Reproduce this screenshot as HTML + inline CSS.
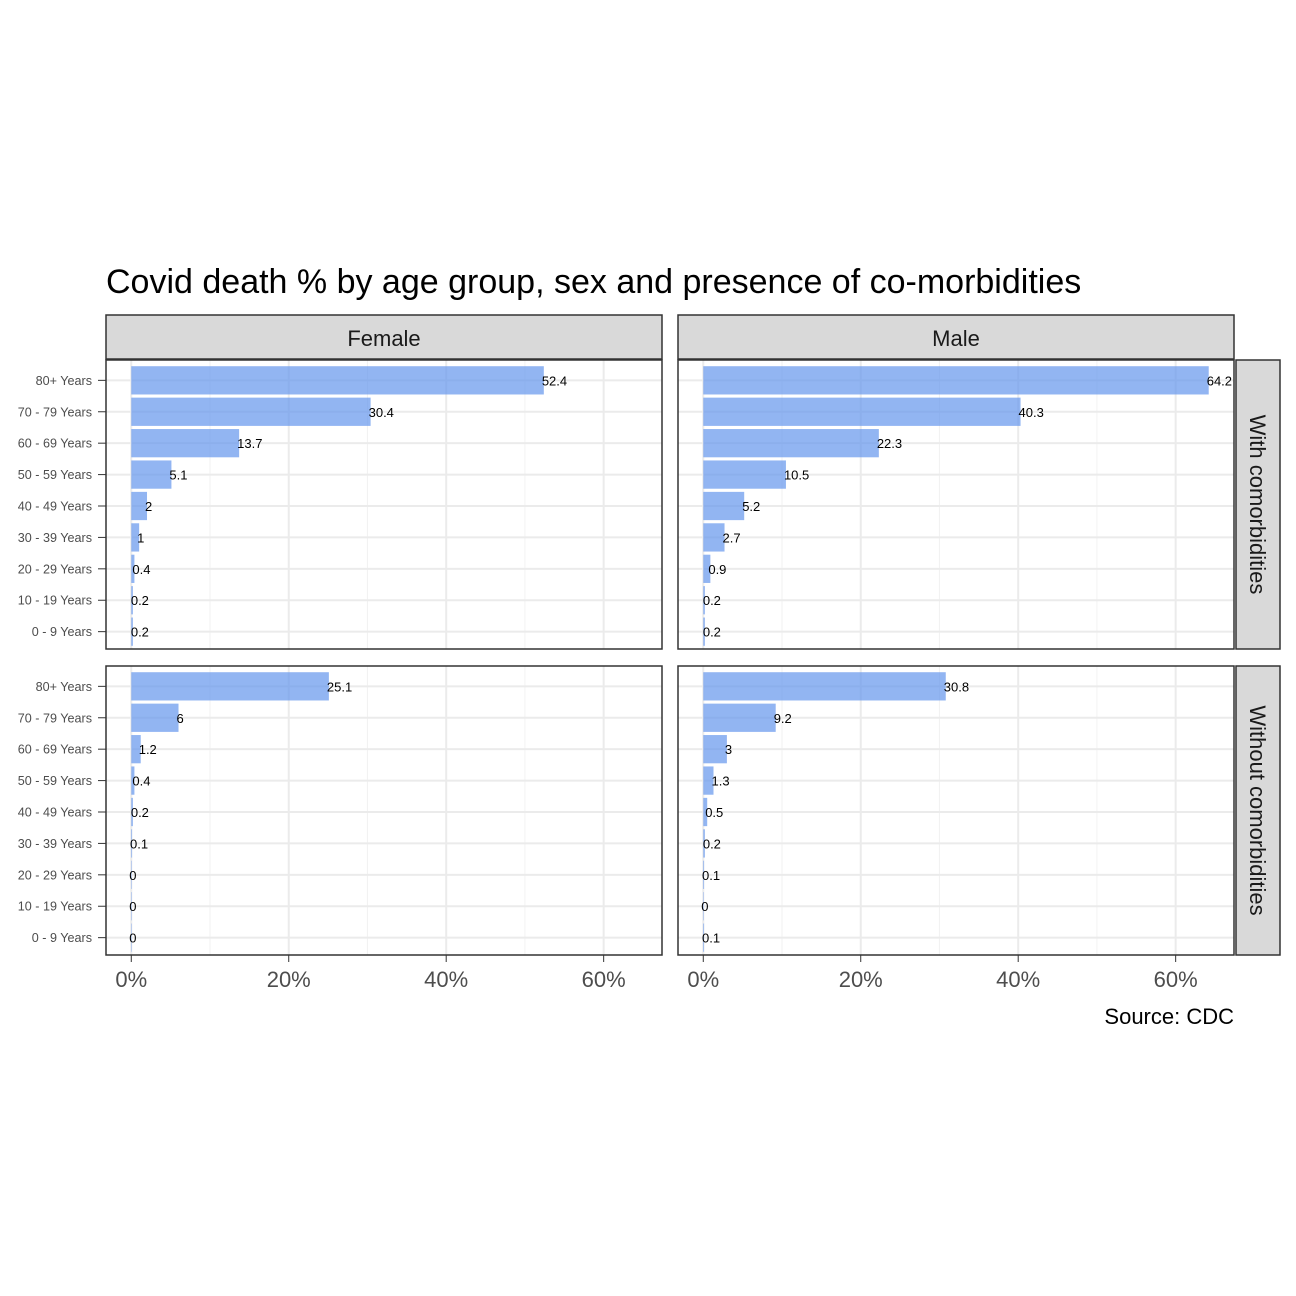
<!DOCTYPE html>
<html><head><meta charset="utf-8"><style>
body{margin:0;background:#fff;}
svg{display:block;font-family:"Liberation Sans",Arial,sans-serif;}
</style></head><body>
<svg id="c" width="1296" height="1296" viewBox="0 0 1296 1296">
<rect width="1296" height="1296" fill="#fff"/>
<text x="106" y="293" font-size="34" fill="#000">Covid death % by age group, sex and presence of co-morbidities</text>
<text x="1234" y="1024" font-size="22" text-anchor="end" fill="#000">Source: CDC</text>
</svg>
<script>
const categories = ["80+ Years","70 - 79 Years","60 - 69 Years","50 - 59 Years","40 - 49 Years","30 - 39 Years","20 - 29 Years","10 - 19 Years","0 - 9 Years"];
const femaleWith = [52.4,30.4,13.7,5.1,2,1,0.4,0.2,0.2];
const maleWith = [64.2,40.3,22.3,10.5,5.2,2.7,0.9,0.2,0.2];
const femaleWithout = [25.1,6,1.2,0.4,0.2,0.1,0,0,0];
const maleWithout = [30.8,9.2,3,1.3,0.5,0.2,0.1,0,0.1];
const xTicks = [0,20,40,60];
const xTickLabels = ["0%","20%","40%","60%"];
const sexes = ["Female","Male"];
const rowLabels = ["With comorbidities","Without comorbidities"];

const svg = document.getElementById('c');
const NS = 'http://www.w3.org/2000/svg';
function mk(tag, attrs, parent){const e=document.createElementNS(NS,tag);for(const k in attrs)e.setAttribute(k,attrs[k]);(parent||svg).appendChild(e);return e;}
const panelX = [106,678], panelW = 556;
const panelY = [360,666], panelH = 289;
const xmin=-3.21, xmax=67.41;
function xs(p,v){return panelX[p]+(v-xmin)/(xmax-xmin)*panelW;}
const step=panelH/(categories.length+0.2);
function yc(r,i){return panelY[r]+step*0.6+i*step+1.5;}
const data=[[femaleWith,maleWith],[femaleWithout,maleWithout]];
for(let r=0;r<2;r++){for(let p=0;p<2;p++){
  const g=mk('g',{});
  
  
  mk('rect',{x:panelX[p],y:panelY[r],width:panelW,height:panelH,fill:'#fff'},g);
  [10,30,50].forEach(v=>mk('line',{x1:xs(p,v),x2:xs(p,v),y1:panelY[r],y2:panelY[r]+panelH,stroke:'#f2f2f2','stroke-width':1},g));
  xTicks.forEach(v=>mk('line',{x1:xs(p,v),x2:xs(p,v),y1:panelY[r],y2:panelY[r]+panelH,stroke:'#ebebeb','stroke-width':2},g));
  categories.forEach((c,i)=>mk('line',{x1:panelX[p],x2:panelX[p]+panelW,y1:yc(r,i),y2:yc(r,i),stroke:'#ebebeb','stroke-width':2},g));
  const vals=data[r][p];
  vals.forEach((v,i)=>{
    const b=mk('rect',{x:xs(p,0),y:yc(r,i)-step*0.45,width:Math.max(xs(p,v)-xs(p,0),0.5),height:step*0.9,fill:'#6495ed','fill-opacity':0.7},g);
    
    
    const t=mk('text',{x:xs(p,v)-2,y:yc(r,i)+5,'font-size':13,fill:'#000'},g);
    t.textContent=String(v);
    
    
  });
  mk('rect',{x:panelX[p],y:panelY[r],width:panelW,height:panelH,fill:'none',stroke:'#333','stroke-width':1.5},g);
}
  categories.forEach((c,i)=>{
    mk('line',{x1:98,x2:106,y1:yc(r,i),y2:yc(r,i),stroke:'#333','stroke-width':1});
    const t=mk('text',{x:92,y:yc(r,i)+4.5,'font-size':12.6,'text-anchor':'end',fill:'#4d4d4d'});
    t.textContent=c;
    
    
  });
  mk('rect',{x:1236,y:panelY[r],width:44,height:panelH,fill:'#d9d9d9',stroke:'#333','stroke-width':1.5});
  const s=mk('text',{x:1250,y:panelY[r]+panelH/2,'font-size':22,'text-anchor':'middle',fill:'#1a1a1a',transform:'rotate(90 1250 '+(panelY[r]+panelH/2)+')'});
  s.textContent=rowLabels[r];
  
  
}
for(let p=0;p<2;p++){
  mk('rect',{x:panelX[p],y:315,width:panelW,height:44,fill:'#d9d9d9',stroke:'#333','stroke-width':1.5});
  const s=mk('text',{x:panelX[p]+panelW/2,y:346,'font-size':22,'text-anchor':'middle',fill:'#1a1a1a'});
  s.textContent=sexes[p];
  
  
  xTicks.forEach((v,k)=>{
    mk('line',{x1:xs(p,v),x2:xs(p,v),y1:955,y2:962,stroke:'#333','stroke-width':1});
    const t=mk('text',{x:xs(p,v),y:987,'font-size':22,'text-anchor':'middle',fill:'#4d4d4d'});
    t.textContent=xTickLabels[k];
    
    
  });
}
</script>
</body></html>
